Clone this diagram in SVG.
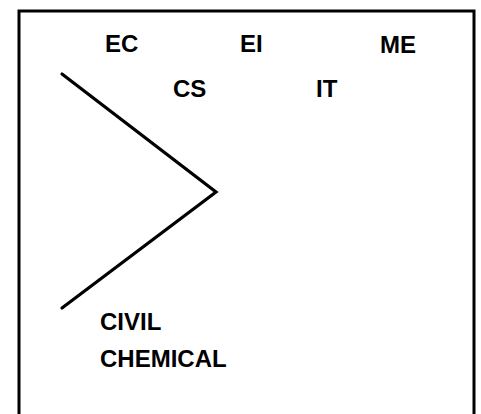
<svg xmlns="http://www.w3.org/2000/svg" width="481" height="414" viewBox="0 0 481 414">
<style>
.lbl{font-family:"Liberation Sans",Arial,sans-serif;font-weight:bold;font-size:24px;fill:#000}
.ln{fill:none;stroke:#000;stroke-linecap:round;stroke-linejoin:miter}
</style>
<rect width="481" height="414" fill="#fff"/>
<path class="ln" d="M19,420 V11 H474 V420" stroke-width="3"/>
<g id="connectors">
<path class="ln" d="M62,74 L216,192 L62,308" stroke-width="3.2"/>
</g>
<g id="node-EC"><text class="lbl" x="105" y="52">EC</text></g>
<g id="node-EI"><text class="lbl" x="240" y="52">EI</text></g>
<g id="node-ME"><text class="lbl" x="380" y="53">ME</text></g>
<g id="node-CS"><text class="lbl" x="173" y="97">CS</text></g>
<g id="node-IT"><text class="lbl" x="316" y="97">IT</text></g>
<g id="node-CIVIL"><text class="lbl" x="100" y="330">CIVIL</text></g>
<g id="node-CHEMICAL"><text class="lbl" x="100" y="367">CHEMICAL</text></g>
</svg>
